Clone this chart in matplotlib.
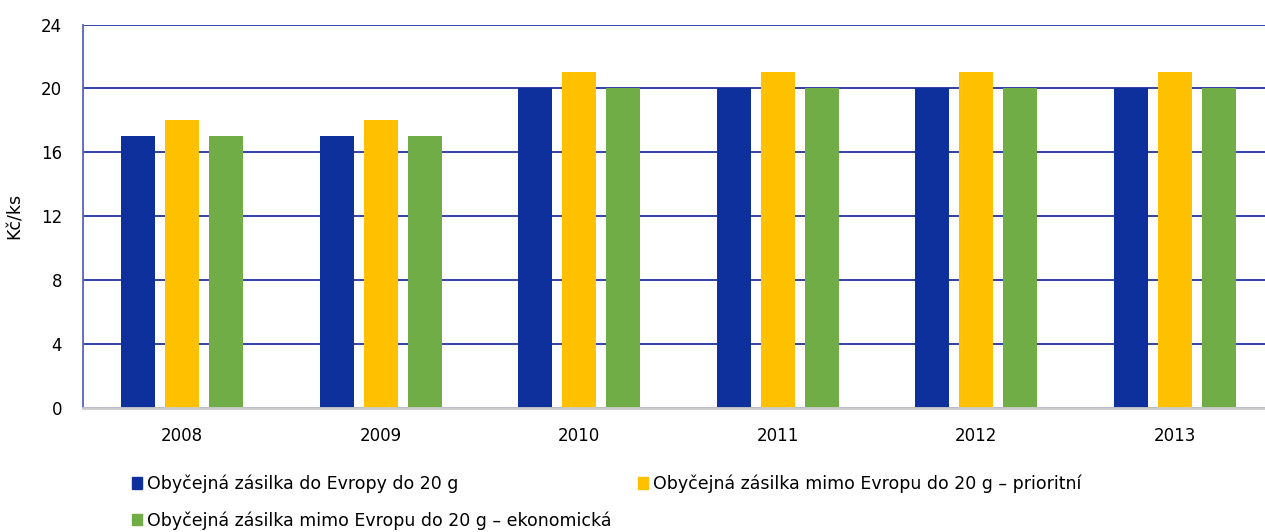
import numpy as np
import matplotlib
matplotlib.use('Agg')
from matplotlib import pyplot as plt
from matplotlib.patches import Patch

years = ['2008', '2009', '2010', '2011', '2012', '2013']
evropa = [17, 17, 20, 20, 20, 20]
mimo_prioritni = [18, 18, 21, 21, 21, 21]
mimo_ekonomicka = [17, 17, 20, 20, 20, 20]

names = ['Obyčejná zásilka do Evropy do 20 g',
         'Obyčejná zásilka mimo Evropu do 20 g – prioritní',
         'Obyčejná zásilka mimo Evropu do 20 g – ekonomická']
colors = ['#0E309C', '#FFC000', '#70AD47']

plt.rcParams['font.family'] = ['DejaVu Sans']

fig = plt.figure(figsize=(12.65, 5.32), dpi=100)
ax = fig.add_axes([83 / 1265, 1 - 408 / 532, 1182 / 1265, (408 - 24.5) / 532])

x = np.arange(len(years))
w = 0.172
off = 0.222
ax.bar(x - off, evropa, w, color=colors[0], zorder=3)
ax.bar(x, mimo_prioritni, w, color=colors[1], zorder=3)
ax.bar(x + off, mimo_ekonomicka, w, color=colors[2], zorder=3)

ax.set_ylim(0, 24)
ax.set_yticks(range(0, 25, 4))
ax.set_xlim(-0.5, 5.455)
ax.set_xticks(x)
ax.set_xticklabels(years)
ax.tick_params(length=0, labelsize=12, colors='#000000')
ax.tick_params(axis='y', pad=15)
ax.tick_params(axis='x', pad=14)

ax.yaxis.grid(True, color='#2233A0', linewidth=1.3, zorder=0)
ax.set_axisbelow(True)
for s in ['top', 'right']:
    ax.spines[s].set_visible(False)
ax.spines['left'].set_color('#5566C0')
ax.spines['left'].set_linewidth(1.3)
ax.spines['bottom'].set_color('#CCCCCC')
ax.spines['bottom'].set_linewidth(2.0)
ax.spines['bottom'].set_zorder(4)

ax.set_ylabel('Kč/ks', fontsize=12.5, labelpad=12)

handles = [Patch(color=colors[0]), Patch(color=colors[2]), Patch(color=colors[1])]
labels = [names[0], names[2], names[1]]
fig.legend(handles, labels, ncol=2, loc='upper left',
           bbox_to_anchor=(116 / 1265, 1 - 459 / 532), frameon=False,
           fontsize=12.5, handlelength=0.6, handleheight=0.6,
           handletextpad=0.3, columnspacing=1.5, labelspacing=1.05)

fig.savefig('out.png', dpi=100)
